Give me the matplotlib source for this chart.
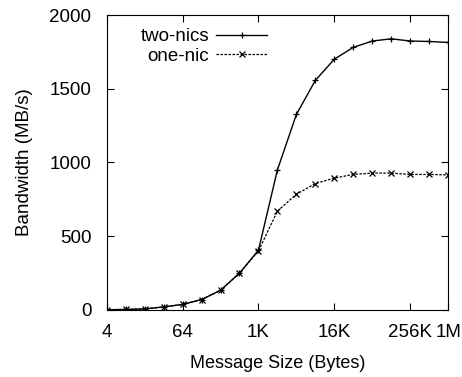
import matplotlib
matplotlib.use('Agg')
import matplotlib.pyplot as plt

plt.rcParams['font.family'] = ['Liberation Sans', 'DejaVu Sans']

# message sizes in bytes, 4 .. 1M
sizes = [4, 8, 16, 32, 64, 128, 256, 512, 1024, 2048, 4096, 8192, 16384,
         32768, 65536, 131072, 262144, 524288, 1048576]
two_nics = [1, 3, 7, 20, 37, 70, 133, 249, 405, 950, 1326, 1557, 1701,
            1781, 1824, 1839, 1824, 1821, 1814]
one_nic = [1, 3, 7, 20, 37, 70, 133, 249, 400, 670, 785, 857, 894,
           919, 928, 928, 919, 919, 916]
tick_vals = [4, 64, 1024, 16384, 262144, 1048576]
tick_labels = ['4', '64', '1K', '16K', '256K', '1M']

fig = plt.figure(figsize=(4.62, 3.77), dpi=100)
ax = fig.add_axes([0.231, 0.178, 0.739, 0.782])

ax.plot(sizes, two_nics, color='black', lw=1.0, marker='+', ms=5,
        mew=0.9, label='two-nics')
ax.plot(sizes, one_nic, color='black', lw=0.9, marker='x', ms=4,
        mew=0.9, dashes=(2.0, 1.2), label='one-nic')

ax.set_xscale('log', base=2)
ax.set_xlim(4, 1048576)
ax.set_ylim(0, 2000)
ax.set_xticks(tick_vals)
ax.set_xticklabels(tick_labels)
ax.set_yticks([0, 500, 1000, 1500, 2000])
ax.minorticks_off()
ax.tick_params(direction='in', top=True, right=True, labelsize=13.5,
               length=5, width=0.8)
ax.tick_params(axis='x', pad=10)
ax.tick_params(axis='y', pad=11)
for s in ax.spines.values():
    s.set_linewidth(0.8)

ax.set_xlabel('Message Size (Bytes)', fontsize=13, labelpad=10)
ax.set_ylabel('Bandwidth (MB/s)', fontsize=13.5, labelpad=12)

ax.legend(loc='upper left', bbox_to_anchor=(0.06, 1.0), frameon=False,
          markerfirst=False, fontsize=13.5, handlelength=2.7,
          handletextpad=0.4, labelspacing=0.12, borderaxespad=0.3)

fig.savefig('out.png', dpi=100)
